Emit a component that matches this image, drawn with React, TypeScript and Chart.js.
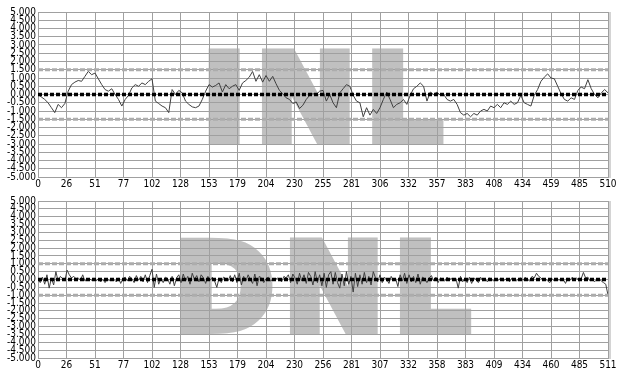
import React, { useEffect, useRef } from "react";
import { Chart, registerables } from "chart.js";

Chart.register(...registerables);

// INL: sampled every 3 codes (0..510)
const inlStep = 3;
const inlValues = [
  0.0, -0.15, -0.3, -0.5, -0.8, -1.1, -0.6, -0.8, -0.55, 0.2, 0.6, 0.75, 0.85, 0.8, 1.1, 1.4,
  1.2, 1.3, 0.95, 0.6, 0.3, 0.2, 0.35, 0.0, -0.3, -0.7, -0.3, -0.05, 0.4, 0.6, 0.5, 0.7,
  0.6, 0.8, 0.95, -0.4, -0.55, -0.7, -0.8, -1.1, 0.3, 0.0, 0.25, 0.1, -0.4, -0.6, -0.75, -0.8,
  -0.7, -0.3, 0.2, 0.6, 0.45, 0.55, 0.7, 0.15, 0.6, 0.35, 0.5, 0.6, 0.25, 0.7, 0.85, 1.05,
  1.4, 0.8, 1.2, 0.75, 1.15, 0.8, 1.1, 0.65, 0.25, 0.05, -0.2, -0.3, -0.55, -0.45, -0.85, -0.65,
  -0.3, -0.05, 0.05, 0.0, 0.2, 0.25, -0.4, 0.0, -0.5, -0.8, 0.1, 0.35, 0.6, 0.5, -0.05, -0.4,
  -0.5, -1.35, -0.8, -1.25, -0.9, -1.15, -0.8, -0.3, 0.15, -0.3, -0.8, -0.6, -0.5, -0.3, -0.6, -0.05,
  0.35, 0.5, 0.7, 0.5, -0.4, 0.15, 0.0, 0.15, -0.05, 0.0, -0.3, -0.4, -0.3, -0.6, -1.1, -1.25,
  -1.15, -1.35, -1.15, -1.25, -1.0, -0.9, -1.0, -0.7, -0.8, -0.6, -0.8, -0.5, -0.6, -0.4, -0.6, -0.5,
  -0.05, -0.5, -0.6, -0.7, -0.05, 0.3, 0.8, 1.05, 1.25, 1.0, 0.95, 0.5, 0.05, -0.3, -0.4, -0.2,
  -0.3, 0.25, 0.45, 0.35, 0.9, 0.35, 0.0, -0.2, 0.1, 0.3, 0.1,
];
const inlLimit = 1.5;
const inlMax = 510;
const inlTickLabels = [
  "0", "26", "51", "77", "102", "128", "153", "179", "204", "230", "255",
  "281", "306", "332", "357", "383", "408", "434", "459", "485", "510",
];

// DNL: 256 samples spread over codes 0..511
const dnlValues = [
  0.0, -0.2, 0.15, -0.3, 0.3, -0.55, 0.1, -0.35, 0.5, -0.1, 0.2, 0.05, -0.1, 0.6, 0.3, 0.1,
  0.2, 0.05, 0.1, -0.05, 0.3, -0.1, 0.0, 0.05, -0.05, 0.1, -0.1, 0.05, -0.15, 0.0, -0.2, 0.05,
  -0.1, 0.05, 0.0, -0.15, 0.1, -0.25, 0.05, 0.15, -0.1, 0.2, 0.05, -0.2, 0.25, -0.05, 0.2, -0.15,
  0.3, -0.2, 0.25, 0.65, -0.5, 0.35, -0.3, 0.1, -0.2, 0.15, 0.05, -0.3, 0.2, -0.4, 0.1, 0.3,
  -0.2, 0.35, -0.1, 0.2, -0.3, 0.4, 0.0, 0.25, -0.15, 0.3, 0.1, -0.25, 0.2, -0.05, 0.15, -0.1,
  -0.5, 0.1, -0.2, 0.15, 0.05, -0.1, 0.25, -0.15, 0.3, -0.2, 0.4, -0.35, 0.2, -0.1, 0.3, 0.0,
  -0.25, 0.35, -0.4, 0.2, 0.1, -0.2, 0.05, 0.15, -0.1, 0.0, -0.05, 0.1, 0.0, -0.15, 0.2, 0.1,
  0.3, -0.2, 0.35, 0.1, -0.3, 0.4, -0.1, 0.3, -0.25, 0.45, 0.2, -0.35, 0.5, -0.2, 0.3, -0.4,
  0.4, -0.5, 0.3, 0.5, -0.3, 0.45, -0.2, -0.55, 0.35, -0.4, 0.5, -0.3, 0.2, -0.8, 0.4, -0.45,
  0.3, -0.3, 0.45, -0.2, 0.2, -0.35, 0.5, 0.1, -0.15, 0.3, -0.2, 0.15, 0.0, -0.25, 0.2, -0.1,
  0.05, -0.45, 0.3, -0.1, 0.4, -0.25, 0.3, -0.15, 0.2, -0.2, 0.35, -0.3, 0.15, 0.05, -0.2, 0.1,
  0.25, -0.1, 0.15, -0.2, 0.1, 0.0, -0.1, 0.15, -0.05, 0.1, -0.1, 0.05, -0.55, 0.2, -0.15, 0.1,
  -0.2, 0.15, -0.25, 0.1, 0.0, -0.2, 0.15, -0.1, 0.05, -0.15, 0.1, 0.0, -0.1, 0.05, -0.05, 0.1,
  -0.1, 0.0, 0.05, -0.15, 0.1, 0.0, -0.1, 0.05, 0.1, -0.05, 0.15, 0.0, -0.1, 0.2, 0.1, 0.4,
  0.2, 0.1, -0.05, 0.05, -0.1, -0.2, 0.05, -0.1, 0.1, -0.05, 0.05, 0.0, -0.25, 0.1, -0.05, 0.15,
  0.0, 0.1, -0.1, 0.05, 0.45, 0.1, 0.15, -0.1, 0.05, -0.15, 0.0, 0.05, -0.1, -0.2, -0.3, -1.0,
];
const dnlLimit = 1.0;
const dnlMax = 511;
const dnlTickLabels = [
  "0", "26", "51", "77", "102", "128", "153", "179", "204", "230", "256",
  "281", "307", "332", "358", "383", "409", "434", "460", "485", "511",
];

const yMin = -5;
const yMax = 5;
const yStep = 0.5;

const TICK_FONT = { family: "'Liberation Sans Narrow', 'DejaVu Sans Condensed', 'Liberation Sans', Arial", size: 10 };

function makeConfig(opts: {
  points: { x: number; y: number }[];
  xMax: number;
  limit: number;
  tickLabels: string[];
  watermark: string;
  padTop: number;
}): any {
  const { points, xMax, limit, tickLabels, watermark, padTop } = opts;
  const watermarkPlugin = {
    id: "watermark",
    beforeDraw(chart: any) {
      const { ctx, chartArea } = chart;
      ctx.save();
      ctx.font = "bold 122px 'DejaVu Sans'";
      try {
        (ctx as any).letterSpacing = "8px";
      } catch (e) {}
      ctx.fillStyle = "#c0c0c0";
      ctx.strokeStyle = "#c0c0c0";
      ctx.lineWidth = 8;
      ctx.lineJoin = "miter";
      ctx.textAlign = "center";
      ctx.textBaseline = "alphabetic";
      const cx = (chartArea.left + chartArea.right) / 2 + 3;
      const by = chartArea.top + 129;
      ctx.fillText(watermark, cx, by);
      ctx.strokeText(watermark, cx, by);
      ctx.restore();
    },
    afterDraw(chart: any) {
      const { ctx, chartArea } = chart;
      ctx.save();
      ctx.fillStyle = "#d4d4d4";
      ctx.fillRect(chartArea.right + 1, chartArea.top, 2, chartArea.bottom - chartArea.top + 1);
      ctx.restore();
    },
  };
  return {
    type: "line",
    data: {
      datasets: [
        {
          data: [{ x: 0, y: 0 }, { x: xMax, y: 0 }],
          borderColor: "#000000",
          borderWidth: 3.5,
          borderDash: [4, 2],
          pointRadius: 0,
        },
        {
          data: [{ x: 0, y: limit }, { x: xMax, y: limit }],
          borderColor: "#acacac",
          borderWidth: 3,
          borderDash: [5, 2],
          pointRadius: 0,
        },
        {
          data: [{ x: 0, y: -limit }, { x: xMax, y: -limit }],
          borderColor: "#acacac",
          borderWidth: 3,
          borderDash: [5, 2],
          pointRadius: 0,
        },
        {
          data: points,
          borderColor: "#404040",
          borderWidth: 1,
          pointRadius: 0,
        },
      ],
    },
    options: {
      animation: false,
      responsive: false,
      maintainAspectRatio: false,
      events: [],
      layout: { padding: { top: padTop, right: 10, left: 0, bottom: 0 } },
      plugins: { legend: { display: false }, tooltip: { enabled: false } },
      scales: {
        x: {
          type: "linear",
          min: 0,
          max: xMax,
          afterBuildTicks(axis: any) {
            axis.ticks = tickLabels.map((_, i) => ({ value: (i * xMax) / 20 }));
          },
          afterFit(axis: any) {
            axis.height = 13;
          },
          ticks: {
            autoSkip: false,
            maxRotation: 0,
            padding: 1,
            color: "#000",
            font: TICK_FONT,
            callback: (_v: any, i: number) => tickLabels[i],
          },
          grid: { color: "#a0a0a0", drawTicks: false, lineWidth: 1 },
          border: { color: "#a0a0a0" },
        },
        y: {
          min: yMin,
          max: yMax,
          afterFit(axis: any) {
            axis.width = 38;
          },
          ticks: {
            stepSize: yStep,
            autoSkip: false,
            padding: 2,
            color: "#000",
            font: TICK_FONT,
            callback: (v: any) => Number(v).toFixed(3),
          },
          grid: { color: "#a0a0a0", drawTicks: false, lineWidth: 1 },
          border: { color: "#a0a0a0" },
        },
      },
    },
    plugins: [watermarkPlugin],
  };
}

function ChartCanvas(props: { config: any; height: number; top: number }) {
  const ref = useRef<HTMLCanvasElement | null>(null);
  useEffect(() => {
    if (!ref.current) return;
    const chart = new Chart(ref.current, props.config);
    return () => chart.destroy();
  }, []);
  return (
    <canvas
      ref={ref}
      width={618}
      height={props.height}
      style={{ position: "absolute", left: 0, top: props.top, width: 618, height: props.height, display: "block" }}
    />
  );
}

export default function App() {
  const inlPoints = inlValues.map((y, i) => ({ x: i * inlStep, y }));
  const dnlPoints = dnlValues.map((y, i) => ({ x: (i * dnlMax) / (dnlValues.length - 1), y }));
  const inlConfig = makeConfig({
    points: inlPoints,
    xMax: inlMax,
    limit: inlLimit,
    tickLabels: inlTickLabels,
    watermark: "INL",
    padTop: 12,
  });
  const dnlConfig = makeConfig({
    points: dnlPoints,
    xMax: dnlMax,
    limit: dnlLimit,
    tickLabels: dnlTickLabels,
    watermark: "DNL",
    padTop: 11,
  });
  return (
    <div style={{ position: "fixed", left: 0, top: 0, width: 618, height: 371, background: "#fff" }}>
      <ChartCanvas config={inlConfig} height={190} top={0} />
      <ChartCanvas config={dnlConfig} height={181} top={190} />
    </div>
  );
}
